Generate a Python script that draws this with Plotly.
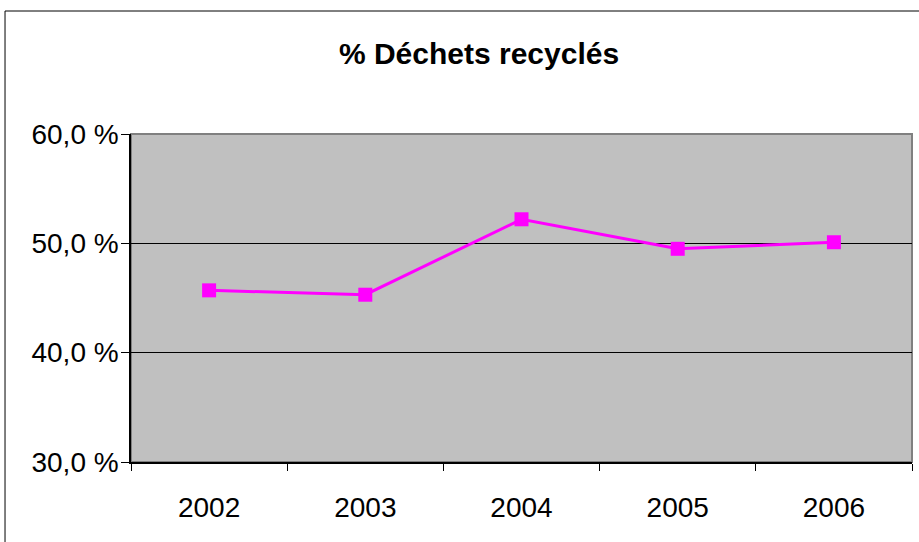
import plotly.graph_objects as go

years = ["2002", "2003", "2004", "2005", "2006"]
recycled_pct = [45.7, 45.3, 52.2, 49.5, 50.1]
y_ticks = [30, 40, 50, 60]
y_tick_labels = ["30,0 %", "40,0 %", "50,0 %", "60,0 %"]

fig = go.Figure()

fig.add_trace(go.Scatter(
    x=years,
    y=recycled_pct,
    mode="lines+markers",
    line=dict(color="#FF00FF", width=3),
    marker=dict(symbol="square", size=14, color="#FF00FF"),
    showlegend=False,
    cliponaxis=False,
))

# outer chart frame
fig.add_shape(type="rect", xref="paper", yref="paper",
              x0=-0.1613, x1=2, y0=-1, y1=1.375,
              line=dict(color="black", width=1), layer="below")
# plot area border (grey top/right)
fig.add_shape(type="rect", xref="paper", yref="paper",
              x0=0, x1=1, y0=0, y1=1,
              line=dict(color="#808080", width=2), layer="below")

fig.update_layout(
    width=919, height=542,
    margin=dict(l=131, r=7, t=134, b=80),
    paper_bgcolor="white",
    plot_bgcolor="#C0C0C0",
    font=dict(family="Liberation Sans, Arial", color="black"),
    title=dict(text="<b>% Déchets recyclés</b>", x=479/919, xref="container",
               xanchor="center", y=1 - 53/542, yanchor="middle",
               font=dict(size=30, color="black")),
)

fig.update_xaxes(
    type="category",
    range=[-0.5, len(years) - 0.5],
    tickson="boundaries",
    ticks="outside", ticklen=7, tickcolor="black", tickwidth=1,
    showline=True, linecolor="black", linewidth=1.5,
    showgrid=False,
    tickfont=dict(size=28),
    ticklabelstandoff=20,
)

fig.update_yaxes(
    range=[30, 60],
    tickvals=y_ticks, ticktext=y_tick_labels,
    ticks="outside", ticklen=8, tickcolor="black", tickwidth=1,
    showline=True, linecolor="black", linewidth=1.5,
    showgrid=True, gridcolor="black", gridwidth=1,
    zeroline=False,
    tickfont=dict(size=28),
    ticklabelstandoff=-3,
)

# drop the default page margin so the figure sits at the window's corner
fig.write_html("out.html", config={"displayModeBar": False},
               post_script="document.body.style.margin='0';")
